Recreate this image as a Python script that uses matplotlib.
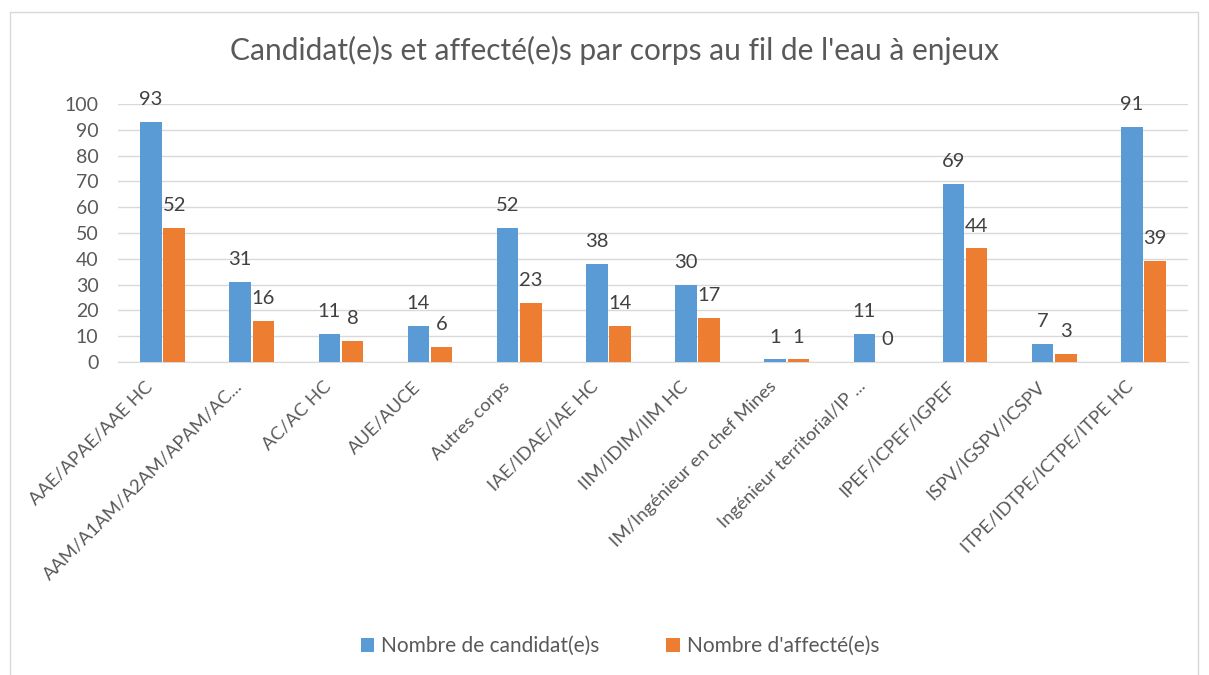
import matplotlib.pyplot as plt
import numpy as np
from matplotlib.patches import Rectangle
from matplotlib.transforms import ScaledTranslation

plt.rcParams['font.family'] = ['Lato', 'DejaVu Sans']

categories = ["AAE/APAE/AAE HC", "AAM/A1AM/A2AM/APAM/AC...", "AC/AC HC", "AUE/AUCE",
              "Autres corps", "IAE/IDAE/IAE HC", "IIM/IDIM/IIM HC",
              "IM/Ingénieur en chef Mines", "Ingénieur territorial/IP ...",
              "IPEF/ICPEF/IGPEF", "ISPV/IGSPV/ICSPV", "ITPE/IDTPE/ICTPE/ITPE HC"]
candidats = [93, 31, 11, 14, 52, 38, 30, 1, 11, 69, 7, 91]
affectes = [52, 16, 8, 6, 23, 14, 17, 1, 0, 44, 3, 39]

blue = '#5B9BD5'
orange = '#ED7D31'
txt = '#595959'

fig = plt.figure(figsize=(12.09, 6.75), dpi=100)
# chart frame
fig.patches.append(Rectangle((10/1209, -0.01), 1188/1209, 1 - 12/675 + 0.01,
                             transform=fig.transFigure, fill=False,
                             edgecolor='#d9d9d9', lw=1))
ax = fig.add_axes([118/1209, 1 - 362/675, 1070/1209, 258/675])

x = np.arange(len(categories))
w = 0.24
b1 = ax.bar(x - 0.13, candidats, w, color=blue, label="Nombre de candidat(e)s", zorder=3)
b2 = ax.bar(x + 0.13, affectes, w, color=orange, label="Nombre d'affecté(e)s", zorder=3)
for bars in (b1, b2):
    ax.bar_label(bars, padding=10, fontsize=14.5, color='#404040')

ax.set_xlim(-0.5, len(categories) - 0.5)
ax.set_ylim(0, 100)
ax.set_yticks(range(0, 101, 10))
ax.yaxis.grid(True, color='#d9d9d9', lw=1, zorder=0)
for s in ['top', 'right', 'left']:
    ax.spines[s].set_visible(False)
ax.spines['bottom'].set_color('#d9d9d9')
ax.tick_params(axis='both', length=0, colors=txt, labelsize=14)
ax.tick_params(axis='y', pad=14)
ax.tick_params(axis='x', pad=6)
ax.set_xticks(x)
ax.set_xticklabels(categories, rotation=45, ha='right', rotation_mode='anchor', fontsize=13.3)
shift = ScaledTranslation(-0.18, -0.08, fig.dpi_scale_trans)
for lab in ax.get_xticklabels():
    lab.set_transform(lab.get_transform() + shift)

fig.text(0.508, 0.925, "Candidat(e)s et affecté(e)s par corps au fil de l'eau à enjeux",
         ha='center', va='center', fontsize=21.5, color=txt)

fig.legend(handles=[b1, b2], loc='center', bbox_to_anchor=(0.513, 0.043), ncol=2,
           frameon=False, fontsize=15, labelcolor=txt, handlelength=0.65,
           handleheight=0.65, columnspacing=3.2, handletextpad=0.35)

fig.savefig('out.png', dpi=100)
